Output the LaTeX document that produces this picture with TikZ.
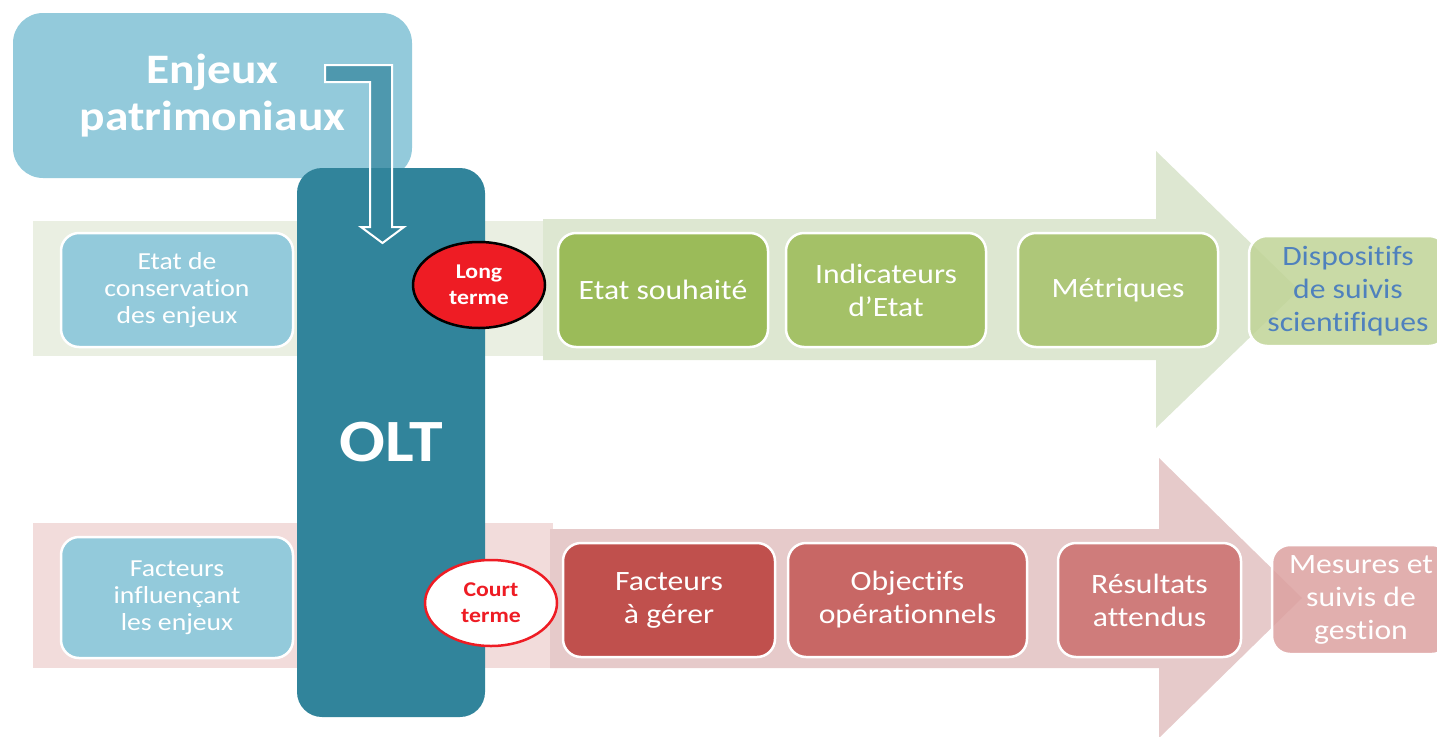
\documentclass[tikz,border=0pt]{standalone}
\usepackage{fontspec}
\setmainfont{Carlito}[FakeStretch=1.13, Ligatures=NoCommon]
\usetikzlibrary{shapes.geometric}

\definecolor{bleuclair}{HTML}{93CADB}
\definecolor{bleuolt}{HTML}{31849B}
\definecolor{bandevert}{HTML}{EAEFE2}
\definecolor{flechevert}{HTML}{DDE7D1}
\definecolor{vertA}{HTML}{9BBB59}
\definecolor{vertB}{HTML}{A4C167}
\definecolor{vertC}{HTML}{AEC779}
\definecolor{vertD}{HTML}{C0D497}
\definecolor{bandrouge}{HTML}{F2DCDB}
\definecolor{flecherouge}{HTML}{E6CACA}
\definecolor{rougeA}{HTML}{C0504D}
\definecolor{rougeB}{HTML}{C86765}
\definecolor{rougeC}{HTML}{CF7C7B}
\definecolor{rougeD}{HTML}{DCA1A0}
\definecolor{bleutexte}{HTML}{4F81BD}
\definecolor{rougevif}{HTML}{EE1C24}

\begin{document}
\begin{tikzpicture}[x=1pt,y=-1pt,
    boite/.style={rounded corners=18pt, draw=white, line width=2.5pt, text=white,
      align=center, inner sep=0pt, minimum height=114},
    texteA/.style={font=\fontsize{24.5}{27}\selectfont},
    texteB/.style={font=\fontsize{28}{33}\selectfont},
    terme/.style={ellipse, line width=2.5pt, minimum width=132, minimum height=86,
      inner sep=0pt, align=center, font=\bfseries\fontsize{21}{26}\selectfont}]
  \clip (0,0) rectangle (1437,736);

  % enjeux en haut
  \node[rounded corners=30pt, fill=bleuclair, minimum width=399, minimum height=165,
    text=white, align=center, font=\bfseries\fontsize{42}{47}\selectfont] (enjeux)
    at (212.5,95.5) {Enjeux\\patrimoniaux};

  % bandes et fleches
  \fill[bandevert] (33,221) rectangle (543,356);
  \fill[flechevert] (543,219) -- (1156,219) -- (1156,151) -- (1299,290)
    -- (1156,428) -- (1156,360) -- (543,360) -- cycle;
  \fill[bandrouge] (33,523) rectangle (553,668);
  \fill[flecherouge] (550,529) -- (1159,529) -- (1159,458) -- (1302,598)
    -- (1159,738) -- (1159,668) -- (550,668) -- cycle;

  % colonne de gauche
  \node[boite, texteA, fill=bleuclair, minimum width=232] (conservation)
    at (177,290) {Etat de\\conservation\\des enjeux};
  \node[boite, texteA, fill=bleuclair, minimum width=232, minimum height=121] (facteurs)
    at (177,597.5) {Facteurs\\influençant\\les enjeux};

  % OLT
  \node[rounded corners=25pt, fill=bleuolt, minimum width=188, minimum height=549,
    text=white, font=\bfseries\fontsize{60}{66}\selectfont] (olt) at (391,442.5) {OLT};

  % fleche creuse
  \draw[white, line width=2pt, fill=bleuolt, fill opacity=0.7]
    (325,65) -- (392,65) -- (392,227) -- (404,227) -- (382.5,243) -- (361,227)
    -- (370,227) -- (370,82) -- (325,82) -- cycle;

  % long terme
  \node[terme, fill=rougevif, draw=black, text=white] (long) at (479,285) {Long\\terme};
  \node[boite, texteB, fill=vertA, minimum width=210] (souhait) at (663,290) {Etat souhaité};
  \node[boite, texteB, fill=vertB, minimum width=200] (indic) at (886,290) {Indicateurs\\d’Etat};
  \node[boite, texteB, fill=vertC, minimum width=200] (metriques) at (1118,290) {Métriques};
  \node[boite, texteB, fill=vertD, fill opacity=0.85, text opacity=1, text=bleutexte,
    minimum width=198, minimum height=110] (dispositifs)
    at (1348,291) {Dispositifs\\de suivis\\scientifiques};

  % court terme
  \node[terme, fill=white, draw=rougevif, text=rougevif] (court) at (491,603) {Court\\terme};
  \node[boite, texteB, fill=rougeA, minimum width=212] (gerer) at (669,600) {Facteurs\\à gérer};
  \node[boite, texteB, fill=rougeB, minimum width=239] (objectifs) at (907.5,600) {Objectifs\\opérationnels};
  \node[boite, texteB, fill=rougeC, minimum width=183] (resultats) at (1149.5,600) {Résultats\\attendus};
  \node[boite, texteB, fill=rougeD, fill opacity=0.85, text opacity=1,
    minimum width=178, minimum height=109] (mesures)
    at (1361,599.5) {Mesures et\\suivis de\\gestion};
\end{tikzpicture}
\end{document}
